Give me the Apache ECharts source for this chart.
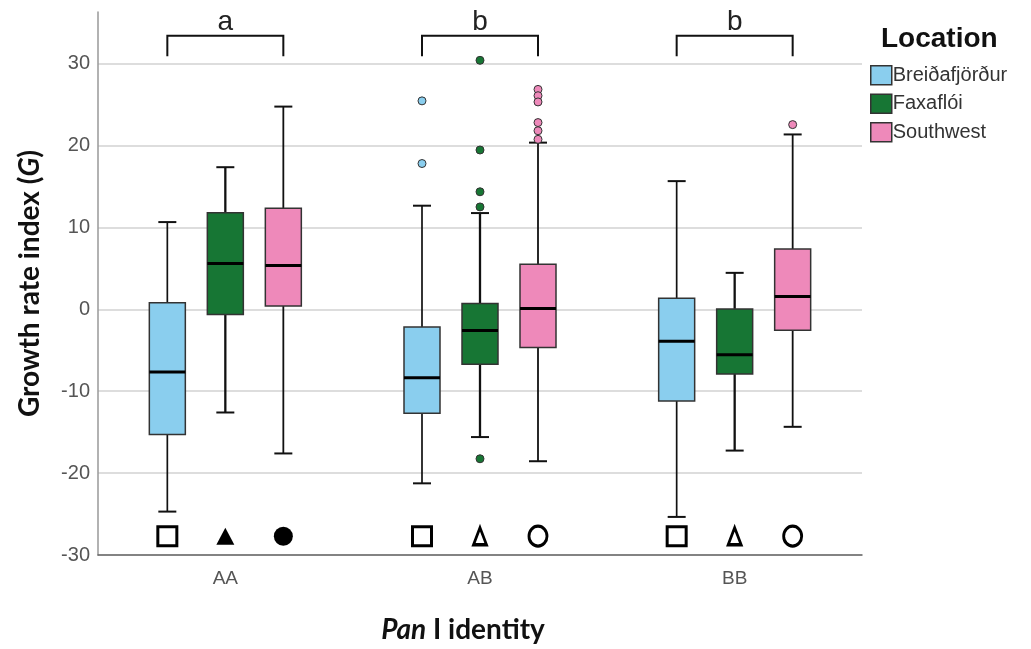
<!DOCTYPE html>
<html>
<head>
<meta charset="utf-8">
<script src="https://cdn.jsdelivr.net/npm/echarts@6/dist/echarts.min.js"></script>
<style>html,body{margin:0;padding:0;background:#fff;}#chart{width:1031px;height:649px;}</style>
</head>
<body>
<div id="chart"></div>
<script>
// ---------- data ----------
const categories = ['AA', 'AB', 'BB'];
const locations = ['Breiðafjörður', 'Faxaflói', 'Southwest'];
// [lower whisker, Q1, median, Q3, upper whisker] per category
const breidafjordurBox = [[-24.7, -15.3, -7.65, 0.8, 10.65], [-21.25, -12.7, -8.35, -2.15, 12.65], [-25.35, -11.2, -3.9, 1.35, 15.65]];
const faxafloiBox = [[-12.6, -0.65, 5.6, 11.8, 17.35], [-15.6, -6.7, -2.6, 0.7, 11.75], [-17.25, -7.9, -5.55, 0.05, 4.45]];
const southwestBox = [[-17.6, 0.4, 5.35, 12.35, 24.75], [-18.55, -4.65, 0.1, 5.5, 20.35], [-14.35, -2.55, 1.55, 7.35, 21.35]];
// outliers: [category index, value]
const breidafjordurOutliers = [[1, 25.45], [1, 17.8]];
const faxafloiOutliers = [[1, 30.4], [1, 19.45], [1, 14.35], [1, 12.5], [1, -18.25]];
const southwestOutliers = [[1, 26.85], [1, 26.08], [1, 25.32], [1, 22.8], [1, 21.8], [1, 20.75], [2, 22.55]];
// genotype marker level and filled flags per category
const markerValue = [-27.7, -27.7, -27.7];
const breidafjordurFilled = [false, false, false];
const faxafloiFilled = [true, false, false];
const southwestFilled = [true, false, false];
// significance letters per category
const groupLetters = ['a', 'b', 'b'];
const yTicks = [-30, -20, -10, 0, 10, 20, 30];

// ---------- styles ----------
const colors = ['#8ACEEE', '#177634', '#EE89BA'];
const offsets = [-58, 0, 58];
const boxW = 36, capW = 18;
const whiskerW = [1.7, 2.3, 1.8];
const boxes = [breidafjordurBox, faxafloiBox, southwestBox];
const outliers = [breidafjordurOutliers, faxafloiOutliers, southwestOutliers];
const filled = [breidafjordurFilled, faxafloiFilled, southwestFilled];
const markerSymbols = ['rect', 'triangle', 'circle'];
const markerSizesFilled = [[19, 19], [18, 17], [19, 19]];
const markerSizesHollow = [[19, 19], [13, 17], [18, 20]];
const bracketTop = 33.4, bracketBottom = 30.9, letterLevel = 35.0;

const chart = echarts.init(document.getElementById('chart'), null, {renderer: 'canvas'});

const series = [];

// bracket series
series.push({
  type: 'custom',
  name: 'brackets',
  silent: true,
  data: categories.map((c, i) => [i, bracketTop]),
  encode: {x: 0, y: 1},
  renderItem: function (params, api) {
    const i = api.value(0);
    const pTop = api.coord([i, bracketTop]);
    const pBot = api.coord([i, bracketBottom]);
    const pLet = api.coord([i, letterLevel]);
    const x1 = pTop[0] + offsets[0], x2 = pTop[0] + offsets[2];
    return {
      type: 'group',
      children: [
        {type: 'polyline', shape: {points: [[x1, pBot[1]], [x1, pTop[1]], [x2, pTop[1]], [x2, pBot[1]]]},
          style: {stroke: '#111', lineWidth: 2, fill: null}},
        {type: 'text', style: {text: groupLetters[params.dataIndex], x: pTop[0], y: pLet[1],
          align: 'center', verticalAlign: 'middle', fontSize: 28, fontFamily: 'Liberation Sans, Arial', fill: '#222'}}
      ]
    };
  },
  z: 3
});

locations.forEach((loc, li) => {
  series.push({
    type: 'custom',
    name: loc,
    itemStyle: {color: colors[li]},
    data: boxes[li].map((b, ci) => [ci].concat(b)),
    encode: {x: 0, y: [1, 2, 3, 4, 5]},
    renderItem: function (params, api) {
      const ci = api.value(0);
      const lo = api.coord([ci, api.value(1)]);
      const q1 = api.coord([ci, api.value(2)]);
      const md = api.coord([ci, api.value(3)]);
      const q3 = api.coord([ci, api.value(4)]);
      const hi = api.coord([ci, api.value(5)]);
      const cx = lo[0] + offsets[li];
      const lw = whiskerW[li];
      const ls = {stroke: '#111', lineWidth: lw};
      return {
        type: 'group',
        children: [
          {type: 'line', shape: {x1: cx, y1: hi[1], x2: cx, y2: q3[1]}, style: ls},
          {type: 'line', shape: {x1: cx, y1: q1[1], x2: cx, y2: lo[1]}, style: ls},
          {type: 'line', shape: {x1: cx - capW / 2, y1: hi[1], x2: cx + capW / 2, y2: hi[1]}, style: {stroke: '#111', lineWidth: 2}},
          {type: 'line', shape: {x1: cx - capW / 2, y1: lo[1], x2: cx + capW / 2, y2: lo[1]}, style: {stroke: '#111', lineWidth: 2}},
          {type: 'rect', shape: {x: cx - boxW / 2, y: q3[1], width: boxW, height: q1[1] - q3[1]},
            style: {fill: colors[li], stroke: '#333', lineWidth: 1.5}},
          {type: 'line', shape: {x1: cx - boxW / 2, y1: md[1], x2: cx + boxW / 2, y2: md[1]}, style: {stroke: '#000', lineWidth: 3}}
        ]
      };
    },
    z: 2
  });
  series.push({
    type: 'scatter',
    name: loc,
    data: outliers[li],
    symbol: 'circle',
    symbolSize: 8,
    symbolOffset: [offsets[li], 0],
    itemStyle: {color: colors[li], borderColor: '#333', borderWidth: 1, opacity: 1},
    z: 4
  });
  series.push({
    type: 'scatter',
    name: 'marker ' + loc,
    data: markerValue.map((v, ci) => ({
      value: [ci, v],
      symbolSize: filled[li][ci] ? markerSizesFilled[li] : markerSizesHollow[li],
      itemStyle: filled[li][ci]
        ? {color: '#000', borderWidth: 0, opacity: 1}
        : {color: '#fff', borderColor: '#000', borderWidth: 3, opacity: 1}
    })),
    symbol: markerSymbols[li],
    symbolOffset: [offsets[li], 0],
    z: 4
  });
});

chart.setOption({
  animation: false,
  backgroundColor: '#fff',
  grid: {left: 98, right: 169, top: 12, bottom: 91},
  legend: {
    orient: 'vertical', left: 865, top: 60,
    itemWidth: 21, itemHeight: 19, itemGap: 8,
    selectedMode: false,
    textStyle: {fontSize: 20, color: '#333', fontFamily: 'Liberation Sans, Arial', padding: [0, 0, 0, -4]},
    data: locations.map((n, i) => ({name: n, icon: 'rect',
      itemStyle: {color: colors[i], borderColor: '#333', borderWidth: 1.5}}))
  },
  graphic: [{
    type: 'text', left: 881, top: 25,
    style: {text: 'Location', fontSize: 28, fontWeight: 'bold', fontFamily: 'Liberation Sans, Arial', fill: '#111'}
  }],
  xAxis: {
    type: 'category',
    data: categories,
    boundaryGap: true,
    axisLine: {onZero: false, lineStyle: {color: '#666', width: 1.5}},
    axisTick: {show: false},
    axisLabel: {fontSize: 19, color: '#555', margin: 14, fontFamily: 'Liberation Sans, Arial'},
    splitLine: {show: false},
    name: '{i|Pan}{b| I identity}',
    nameLocation: 'middle',
    nameGap: 61,
    nameTextStyle: {
      padding: [0, 34, 0, 0],
      rich: {
        i: {fontFamily: 'Lato', fontWeight: 'bold', fontStyle: 'italic', fontSize: 28, color: '#111'},
        b: {fontFamily: 'Lato', fontWeight: 'bold', fontSize: 28, color: '#111'}
      }
    }
  },
  yAxis: {
    type: 'value',
    min: -30, max: 36.3, interval: 10,
    axisLine: {show: true, lineStyle: {color: '#999', width: 1.5}},
    axisTick: {show: false},
    axisLabel: {fontSize: 20, color: '#555', margin: 8, fontFamily: 'Liberation Sans, Arial', showMaxLabel: false,
      formatter: function (v) { return yTicks.indexOf(v) >= 0 ? String(v) : ''; }},
    splitLine: {show: true, showMaxLine: false, lineStyle: {color: '#d2d2d2', width: 1.5}},
    name: '{b|Growth rate index (}{i|G}{b|)}',
    nameLocation: 'middle',
    nameGap: 54,
    nameRotate: 90,
    nameTextStyle: {
      rich: {
        i: {fontFamily: 'Lato', fontWeight: 'bold', fontStyle: 'italic', fontSize: 28, color: '#111'},
        b: {fontFamily: 'Lato', fontWeight: 'bold', fontSize: 28, color: '#111'}
      }
    }
  },
  series: series
});
</script>
</body>
</html>
